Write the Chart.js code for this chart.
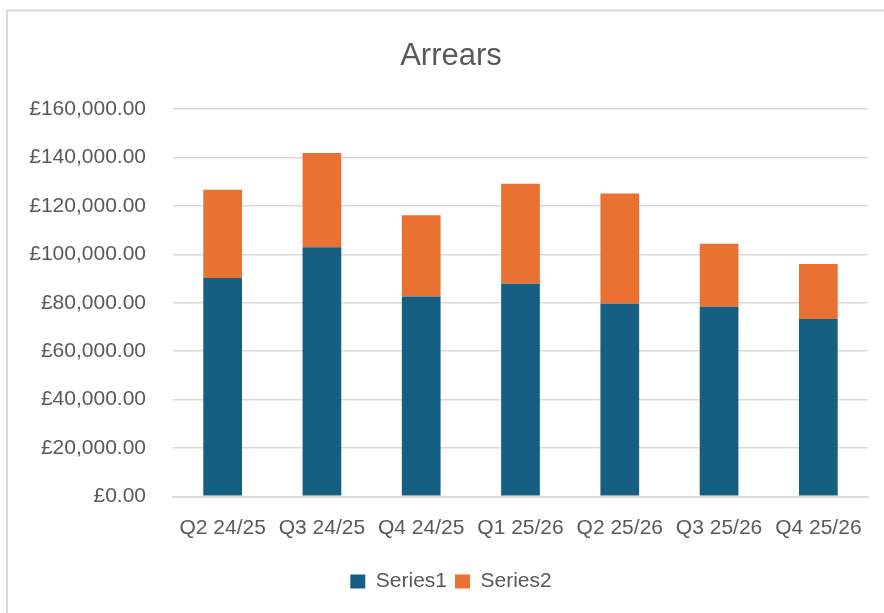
<!DOCTYPE html>
<html>
<head>
<meta charset="utf-8">
<script src="https://cdn.jsdelivr.net/npm/chart.js@4/dist/chart.umd.min.js"></script>
<style>
  html, body { margin: 0; padding: 0; background: #ffffff; overflow: hidden; }
  #wrap { width: 884px; height: 613px; overflow: hidden; position: relative; }
  #box { width: 900px; height: 613px; position: absolute; left: 0; top: 0; }
</style>
</head>
<body>
<div id="wrap"><div id="box"><canvas id="chart"></canvas></div></div>
<script>
// Quarterly arrears, split into two series
const categories = ['Q2 24/25', 'Q3 24/25', 'Q4 24/25', 'Q1 25/26', 'Q2 25/26', 'Q3 25/26', 'Q4 25/26'];
const series1 = [90200, 102900, 82600, 87900, 79600, 78300, 73300];
const series2 = [36500, 39000, 33600, 41300, 45600, 26100, 22700];
const yTicks = [0, 20000, 40000, 60000, 80000, 100000, 120000, 140000, 160000];

const textColor = '#595959';
const gridColor = '#d9d9d9';
const fontFamily = '"Liberation Sans", Arial, sans-serif';

const gbp = v => '£' + v.toLocaleString('en-GB', { minimumFractionDigits: 2, maximumFractionDigits: 2 });

// Light frame round the chart
const framePlugin = {
  id: 'frame',
  beforeDraw(chart) {
    const ctx = chart.ctx;
    ctx.save();
    ctx.strokeStyle = gridColor;
    ctx.lineWidth = 2;
    ctx.beginPath();
    ctx.moveTo(7, 700);
    ctx.lineTo(7, 10.5);
    ctx.lineTo(1000, 10.5);
    ctx.stroke();
    ctx.restore();
  }
};

new Chart(document.getElementById('chart'), {
  type: 'bar',
  data: {
    labels: categories,
    datasets: [
      { label: 'Series1', data: series1, backgroundColor: '#156082', barPercentage: 0.39, categoryPercentage: 1 },
      { label: 'Series2', data: series2, backgroundColor: '#E97132', barPercentage: 0.39, categoryPercentage: 1 }
    ]
  },
  options: {
    responsive: true,
    maintainAspectRatio: false,
    animation: false,
    devicePixelRatio: 1,
    layout: { padding: { left: 6, right: 4, top: 10, bottom: 11 } },
    plugins: {
      title: {
        display: true,
        text: 'Arrears',
        color: textColor,
        font: { family: fontFamily, size: 31, weight: 'normal' },
        padding: { top: 28, bottom: 34 }
      },
      legend: {
        position: 'bottom',
        labels: {
          color: textColor,
          font: { family: fontFamily, size: 21 },
          boxWidth: 15,
          boxHeight: 14,
          padding: 8
        }
      },
      tooltip: { enabled: false }
    },
    scales: {
      x: {
        stacked: true,
        afterFit(scale) { scale.height += 3.5; },
        grid: { display: false, drawTicks: false },
        border: { display: true, color: gridColor, width: 1.5 },
        ticks: { color: textColor, font: { family: fontFamily, size: 21 }, padding: 19, maxRotation: 0 }
      },
      y: {
        stacked: true,
        min: 0,
        max: 160000,
        afterFit(scale) { scale.width = 167; },
        afterBuildTicks(scale) { scale.ticks = yTicks.map(v => ({ value: v })); },
        grid: { color: gridColor, lineWidth: 1.5, drawTicks: false },
        border: { display: false },
        ticks: {
          color: textColor,
          font: { family: fontFamily, size: 21 },
          padding: 27,
          callback: v => gbp(v)
        }
      },
      // empty margin on the right of the plot
      yRight: {
        position: 'right',
        min: 0,
        max: 1,
        afterFit(scale) { scale.width = 28; },
        grid: { display: false, drawTicks: false },
        border: { display: false },
        ticks: { display: false }
      }
    }
  },
  plugins: [framePlugin]
});
</script>
</body>
</html>
